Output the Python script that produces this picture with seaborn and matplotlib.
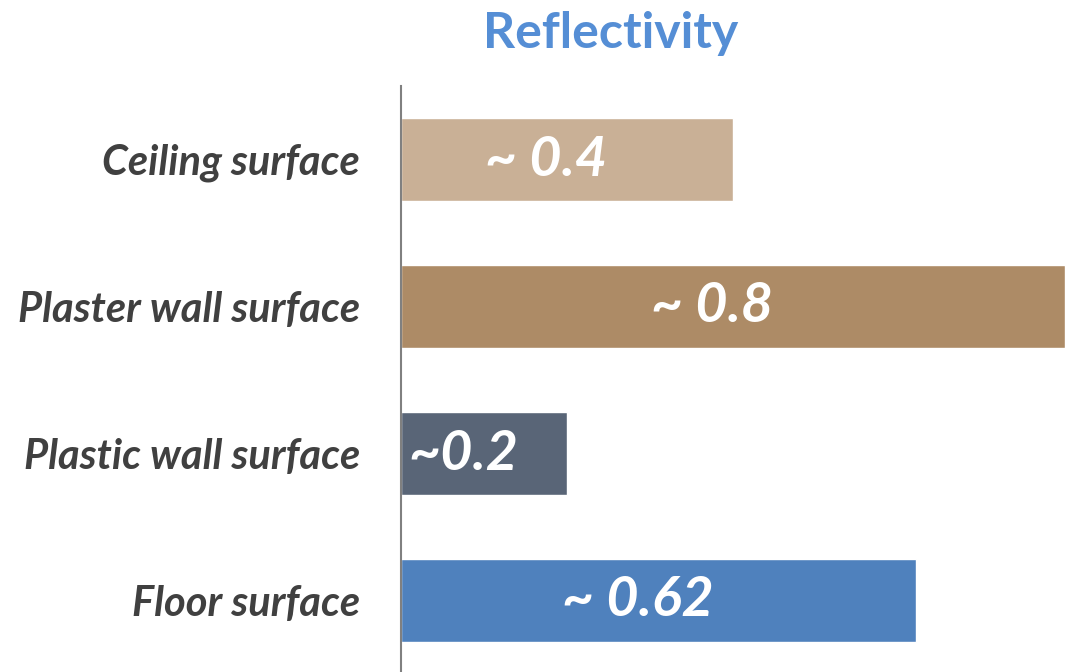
import matplotlib
matplotlib.use("Agg")
import matplotlib.pyplot as plt
import seaborn as sns
import pandas as pd

surfaces = ["Ceiling surface", "Plaster wall surface", "Plastic wall surface", "Floor surface"]
reflectivity = [0.4, 0.8, 0.2, 0.62]
value_labels = ["~ 0.4", "~ 0.8", "~0.2", "~ 0.62"]
bar_colors = ["#C9B096", "#AD8B66", "#596577", "#4F81BD"]

sns.set_theme(style="white")
plt.rcParams["font.family"] = ["Lato", "DejaVu Sans"]

df = pd.DataFrame({"surface": surfaces, "value": reflectivity})

fig = plt.figure(figsize=(10.65, 6.72), dpi=100)
ax = fig.add_axes([401 / 1065, -2 / 672, 664 / 1065, 588 / 672])

sns.barplot(data=df, x="value", y="surface", hue="surface", palette=bar_colors,
            orient="h", width=0.57, legend=False, ax=ax, saturation=1)

ax.set_xlim(0, 0.8)
ax.set_ylim(3.5, -0.5)
ax.set_xlabel("")
ax.set_ylabel("")
ax.set_xticks([])
for side in ["top", "right", "bottom"]:
    ax.spines[side].set_visible(False)
ax.spines["left"].set_color("#808080")
ax.spines["left"].set_linewidth(1.5)

ax.tick_params(axis="y", length=0, pad=29.5)
for lbl in ax.get_yticklabels():
    lbl.set_fontsize(30)
    lbl.set_fontweight("bold")
    lbl.set_fontstyle("italic")
    lbl.set_color("#404040")

for i, (v, txt) in enumerate(zip(reflectivity, value_labels)):
    ax.annotate(txt, xy=(v / 2, i), xytext=(-15, 0), textcoords="offset points",
                ha="center", va="center", color="white", fontsize=40,
                fontweight="bold", fontstyle="italic")

fig.text(611 / 1065, 1 - 33 / 672, "Reflectivity", ha="center", va="center",
         color="#558ED5", fontsize=36, fontweight="bold")

fig.savefig("out.png", dpi=100)
